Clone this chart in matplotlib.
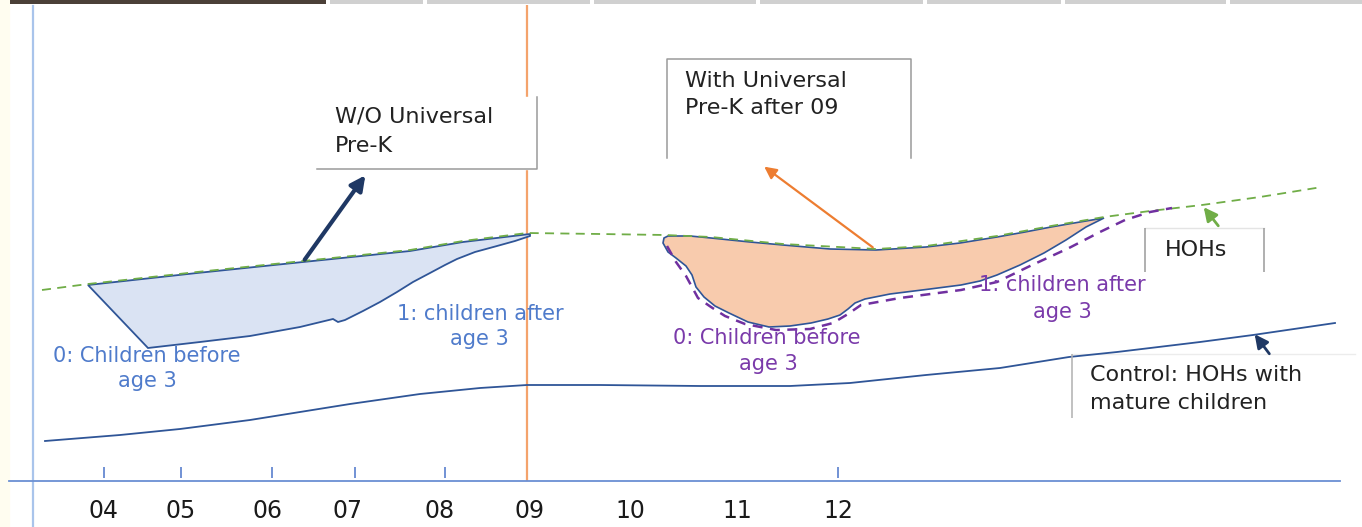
import numpy as np
import matplotlib
matplotlib.use("Agg")
import matplotlib.pyplot as plt

plt.rcParams['font.family'] = ['DejaVu Sans']

# x axis (years), drawn on a canvas-like coordinate system
years = ['04', '05', '06', '07', '08', '09', '10', '11', '12']
year_x = [104, 181, 267, 347, 440, 530, 630, 737, 838]
tick_marks_x = [104, 181, 272, 355, 445, 838]

# HOHs trend (green dashed)
hoh_x = [42, 88, 197, 303, 410, 463, 527, 600, 665, 711, 783, 876, 926, 997, 1051, 1104, 1150, 1202, 1260, 1322]
hoh_y = [290, 284, 272, 261, 250, 241, 233, 234, 235, 237, 244, 249, 246, 236, 226, 217, 211, 205, 197, 187]

# W/O universal pre-K (blue shape)
wo_top_x = [88, 197, 303, 410, 463, 530]
wo_top_y = [285, 273, 262, 251, 242, 234]
wo_bot_x = [88, 148, 200, 250, 300, 333, 338, 345, 363, 380, 397, 413, 430, 445, 457, 475, 497, 515, 530]
wo_bot_y = [285, 348, 342, 336, 327, 319, 322, 320, 311, 302, 292, 282, 273, 265, 259, 252, 246, 241, 236]

# With universal pre-K after 09 (orange shape)
w_top_x = [663, 664, 668, 690, 711, 750, 783, 830, 876, 926, 960, 997, 1025, 1051, 1080, 1104]
w_top_y = [243, 238, 236, 236, 238, 242, 245, 249, 250, 247, 243, 237, 232, 227, 222, 218]
w_bot_x = [663, 668, 676, 686, 692, 696, 704, 715, 729, 748, 769, 790, 811, 828, 840, 848, 855, 865,
           890, 930, 961, 980, 997, 1020, 1044, 1066, 1086, 1104]
w_bot_y = [243, 252, 258, 266, 275, 287, 297, 306, 313, 322, 327, 326, 323, 319, 315, 309, 303, 299,
           294, 289, 285, 281, 275, 265, 253, 240, 227, 218]

# purple dashed (children groups)
pur_x = [667, 676, 686, 698, 711, 725, 745, 776, 810, 833, 848, 861, 900, 961, 997, 1030, 1069, 1100, 1125, 1150, 1172]
pur_y = [246, 262, 276, 298, 307, 316, 324, 330, 329, 323, 314, 305, 298, 290, 282, 266, 248, 232, 220, 212, 208]

# control: HOHs with mature children
ctrl_x = [45, 120, 180, 250, 300, 350, 420, 480, 527, 600, 700, 790, 850, 926, 1000, 1069, 1117, 1200, 1253, 1335]
ctrl_y = [441, 435, 429, 420, 412, 404, 394, 388, 385, 385, 386, 386, 383, 375, 368, 357, 352, 342, 335, 323]

# tab strip at the top of the screenshot
tab_edges = [(330, 93), (427, 163), (594, 162), (760, 163), (927, 134), (1065, 161), (1230, 132)]

fig = plt.figure(figsize=(13.62, 5.27), dpi=100)
ax = fig.add_axes([0, 0, 1, 1])
ax.set_xlim(0, 1362)
ax.set_ylim(527, 0)

# background bits
ax.axvspan(0, 9, color='#fffdf0', zorder=0)
ax.broken_barh([(10, 316)], (0, 4), facecolors='#4b4038', zorder=1)
ax.broken_barh(tab_edges, (0, 4), facecolors='#d0d0d0', zorder=1)

# axes lines
for s in ['top', 'right']:
    ax.spines[s].set_visible(False)
ax.spines['left'].set_position(('data', 33))
ax.spines['left'].set_bounds(6, 527)
ax.spines['left'].set_color('#a9c4eb')
ax.spines['left'].set_linewidth(1.6)
ax.spines['bottom'].set_position(('data', 481))
ax.spines['bottom'].set_bounds(9, 1340)
ax.spines['bottom'].set_color('#6a8fd3')
ax.spines['bottom'].set_linewidth(1.3)
ax.set_yticks([])
ax.set_xticks(year_x, years)
ax.tick_params(axis='x', length=0, pad=13, labelsize=17, labelcolor='#1a1a1a')
ax.vlines(tick_marks_x, 467, 478, color='#4a74c9', lw=1.1)

# 2009 policy line
ax.vlines(527, 5, 481, color='#f4a36c', lw=1.6, zorder=2)

# green trend
ax.plot(hoh_x, hoh_y, color='#70ad47', lw=1.3, ls=(0, (5, 3.5)), zorder=4)

# blue shape
ax.fill(np.concatenate([wo_top_x, wo_bot_x[::-1]]), np.concatenate([wo_top_y, wo_bot_y[::-1]]),
        facecolor='#dae3f3', edgecolor='#2f5597', lw=1.3, zorder=3)

# orange shape + purple dashed
ax.fill(np.concatenate([w_top_x, w_bot_x[::-1]]), np.concatenate([w_top_y, w_bot_y[::-1]]),
        facecolor='#f8cbad', edgecolor='#2f5597', lw=1.2, zorder=3)
ax.plot(pur_x, pur_y, color='#7030a0', lw=1.8, ls=(0, (4, 3)), zorder=4)

# control line
ax.plot(ctrl_x, ctrl_y, color='#2f5597', lw=1.3, zorder=3)

# label boxes
ax.fill([317, 537, 537, 317], [97, 97, 169, 169], color='white', zorder=5)
ax.plot([537, 537, 317], [97, 169, 169], color='#9a9a9a', lw=1.1, zorder=6)
ax.fill([667, 911, 911, 667], [59, 59, 158, 158], color='white', zorder=5)
ax.plot([667, 667, 911, 911], [158, 59, 59, 158], color='#9a9a9a', lw=1.1, zorder=6)
ax.plot([1145, 1264], [228, 228], color='#e4e4e4', lw=1, zorder=6)
ax.vlines([1145, 1264], 228, 272, color='#9a9a9a', lw=1.1, zorder=6)
ax.plot([1072, 1355], [354, 354], color='#ececec', lw=1, zorder=2)
ax.vlines(1072, 354, 418, color='#b0b0b0', lw=1.1, zorder=6)

box_txt = dict(fontsize=16, color='#222222', ha='left', va='baseline', zorder=7)
ax.text(335, 123, 'W/O Universal', **box_txt)
ax.text(335, 152, 'Pre-K', **box_txt)
ax.text(685, 87, 'With Universal', **box_txt)
ax.text(685, 114, 'Pre-K after 09', **box_txt)
ax.text(1165, 256, 'HOHs', **box_txt)
ax.text(1090, 381, 'Control: HOHs with', **box_txt)
ax.text(1090, 409, 'mature children', **box_txt)

fs = 15
blue_txt = dict(fontsize=fs, color='#4f7bcb', ha='center', va='baseline', zorder=7)
ax.text(147, 362, '0: Children before', **blue_txt)
ax.text(147, 387, 'age 3', **blue_txt)
ax.text(480, 320, '1: children after', **blue_txt)
ax.text(479, 345, 'age 3', **blue_txt)

pur_txt = dict(fontsize=fs, color='#7a3aaa', ha='center', va='baseline', zorder=7)
ax.text(767, 344, '0: Children before', **pur_txt)
ax.text(768, 370, 'age 3', **pur_txt)
ax.text(1062, 291, '1: children after', **pur_txt)
ax.text(1062, 318, 'age 3', **pur_txt)

# arrows
ax.annotate('', xy=(367, 173), xytext=(303, 262),
            arrowprops=dict(arrowstyle='-|>', color='#1f3864', lw=3, mutation_scale=22), zorder=6)
ax.annotate('', xy=(762, 165), xytext=(875, 249),
            arrowprops=dict(arrowstyle='-|>', color='#ed7d31', lw=1.6, mutation_scale=18), zorder=6)
ax.annotate('', xy=(1202, 205), xytext=(1220, 228),
            arrowprops=dict(arrowstyle='-|>', color='#70ad47', lw=2, mutation_scale=20), zorder=6)
ax.annotate('', xy=(1253, 332), xytext=(1271, 356),
            arrowprops=dict(arrowstyle='-|>', color='#1f3864', lw=2, mutation_scale=20), zorder=6)

fig.savefig('out.png', dpi=100, facecolor='white')
